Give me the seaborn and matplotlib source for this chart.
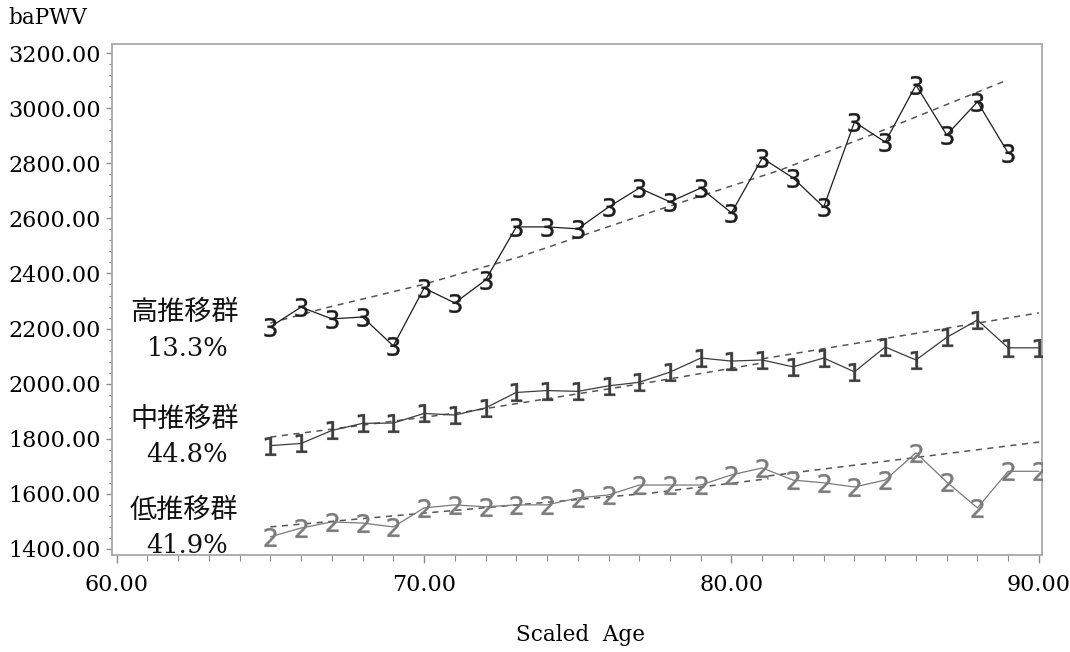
import numpy as np
import pandas as pd
import matplotlib
matplotlib.use("Agg")
import matplotlib.pyplot as plt
from matplotlib.ticker import MultipleLocator, FormatStrFormatter
import seaborn as sns

# ---------------- data ----------------
age_high = list(range(65, 90))
pwv_high = [2206, 2278, 2235, 2242, 2137, 2347, 2293, 2376, 2569, 2569, 2562,
            2641, 2710, 2660, 2710, 2620, 2819, 2747, 2641, 2950, 2877, 3084,
            2903, 3023, 2837]

age_mid = list(range(65, 91))
pwv_mid = [1775, 1783, 1830, 1856, 1857, 1892, 1886, 1912, 1968, 1975, 1972,
           1992, 2005, 2042, 2093, 2082, 2086, 2061, 2093, 2043, 2133, 2086,
           2168, 2231, 2130, 2130]

age_low = list(range(65, 91))
pwv_low = [1444, 1476, 1498, 1494, 1480, 1549, 1560, 1553, 1560, 1560, 1585,
           1596, 1632, 1632, 1632, 1669, 1694, 1650, 1640, 1625, 1650, 1749,
           1643, 1549, 1682, 1682]

# fitted trend lines (dashed), read at several ages; segments as drawn
trend_high_age = [65.0, 66.8, 69.9, 73.1, 77.4, 81.6, 84.8, 88.9]
trend_high_val = [2220, 2275, 2358, 2460, 2623, 2776, 2914, 3099]
trend_high_seg = [0, 0, 0, 0, 0, 0, 0, 0]

trend_mid_age = [65.0, 71.3, 77.4, 81.0, 81.0, 84.9, 90.0]
trend_mid_val = [1806, 1897, 2006, 2075, 2090, 2162, 2257]
trend_mid_seg = [0, 0, 0, 0, 1, 1, 1]

trend_low_age = [65.0, 70.1, 77.4, 81.2, 81.2, 90.0]
trend_low_val = [1480, 1531, 1603, 1655, 1665, 1788]
trend_low_seg = [0, 0, 0, 0, 1, 1]

group_names = ["高推移群", "中推移群", "低推移群"]
group_pcts = ["13.3%", "44.8%", "41.9%"]
group_label_y = [2195, 1808, 1478]

# ---------------- styling ----------------
sns.set_theme(style="white")
plt.rcParams["font.family"] = ["DejaVu Serif", "Noto Sans CJK JP"]
plt.rcParams["mathtext.fontset"] = "dejavusans"

fig = plt.figure(figsize=(10.70, 6.52), dpi=100)
ax = fig.add_axes([112 / 1070, 1 - 555 / 652, (1042 - 112) / 1070, (555 - 44) / 652])

series = [
    (age_high, pwv_high, "$3$", "#1c1c1c"),
    (age_mid, pwv_mid, "$1$", "#3c3c3c"),
    (age_low, pwv_low, "$2$", "#7a7a7a"),
]
for ages, vals, mk, col in series:
    df = pd.DataFrame({"age": ages, "pwv": vals})
    sns.lineplot(data=df, x="age", y="pwv", ax=ax, color=col, lw=0.9,
                 marker=mk, markersize=13.5, markerfacecolor=col,
                 markeredgecolor=col, markeredgewidth=0.3, zorder=3)

trends = [
    (trend_high_age, trend_high_val, trend_high_seg),
    (trend_mid_age, trend_mid_val, trend_mid_seg),
    (trend_low_age, trend_low_val, trend_low_seg),
]
for ages, vals, segs in trends:
    df = pd.DataFrame({"age": ages, "pwv": vals, "seg": segs})
    sns.lineplot(data=df, x="age", y="pwv", units="seg", estimator=None, ax=ax,
                 color="#555555", lw=1.1, linestyle=(0, (4, 3.6)), zorder=2,
                 sort=False)

# group annotations
for name, pct, yv in zip(group_names, group_pcts, group_label_y):
    ax.text(62.2, yv + 62, name, ha="center", va="center", fontsize=19.5,
            family=["Noto Sans CJK JP", "DejaVu Serif"], color="#111111")
    ax.text(62.3, yv - 66, pct, ha="center", va="center", fontsize=18.5,
            family=["DejaVu Serif", "Noto Sans CJK JP"], color="#111111")

ax.set_xlim(59.85, 90.1)
ax.set_ylim(1378, 3233)
ax.xaxis.set_major_locator(MultipleLocator(10))
ax.xaxis.set_minor_locator(MultipleLocator(1))
ax.yaxis.set_major_locator(MultipleLocator(200))
ax.yaxis.set_minor_locator(MultipleLocator(40))
ax.xaxis.set_major_formatter(FormatStrFormatter("%.2f"))
ax.yaxis.set_major_formatter(FormatStrFormatter("%.2f"))

for sp in ax.spines.values():
    sp.set_color("#a8a8a8")
    sp.set_linewidth(1.3)

ax.tick_params(axis="both", which="both", direction="out", color="#8a8a8a",
               labelcolor="#000000")
ax.tick_params(axis="x", which="major", length=6, width=1.0, pad=8, labelsize=16,
               bottom=True)
ax.tick_params(axis="x", which="minor", length=4, width=0.8, bottom=True)
ax.tick_params(axis="y", which="major", length=4, width=1.0, pad=4, labelsize=16,
               left=True)
ax.tick_params(axis="y", which="minor", length=2.5, width=0.8, left=True)
for lbl in ax.get_xticklabels() + ax.get_yticklabels():
    lbl.set_fontweight("medium")

ax.set_xlabel("")
ax.set_ylabel("")
fig.text(580 / 1070, 1 - 635 / 652, "Scaled  Age", ha="center", va="center",
         fontsize=15.5, color="#000000")
fig.text(8 / 1070, 1 - 18 / 652, "baPWV", ha="left", va="center",
         fontsize=15.5, color="#000000")

fig.savefig("out.png", dpi=100)
